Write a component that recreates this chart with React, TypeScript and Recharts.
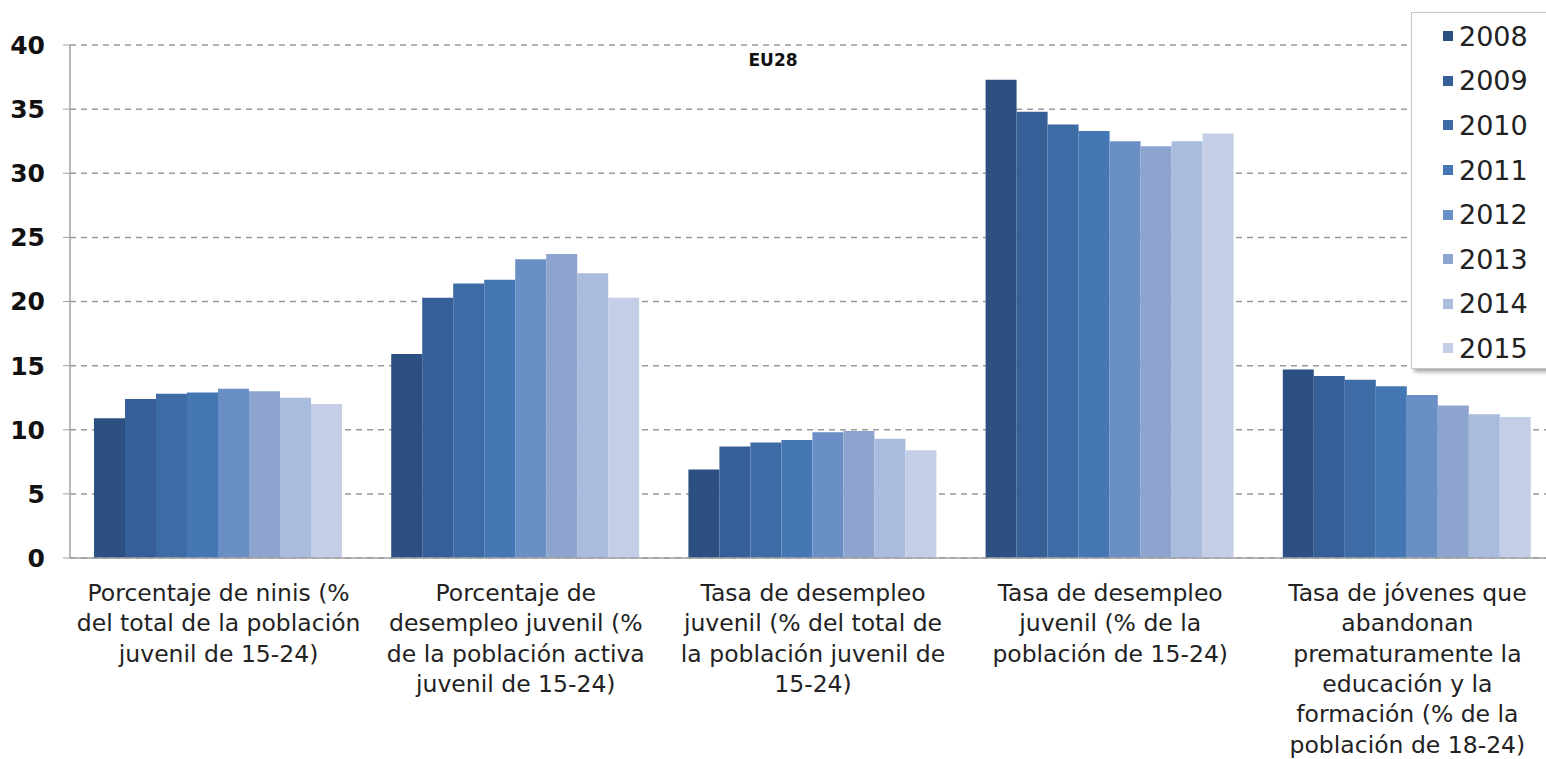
import { BarChart, Bar, XAxis, YAxis, CartesianGrid } from 'recharts';

const categories = [
  ['Porcentaje de ninis (%', 'del total de la población', 'juvenil de 15-24)'],
  ['Porcentaje de', 'desempleo juvenil (%', 'de la población activa', 'juvenil de 15-24)'],
  ['Tasa de desempleo', 'juvenil (% del total de', 'la población juvenil de', '15-24)'],
  ['Tasa de desempleo', 'juvenil (% de la', 'población de 15-24)'],
  [
    'Tasa de jóvenes que',
    'abandonan',
    'prematuramente la',
    'educación y la',
    'formación (% de la',
    'población de 18-24)',
  ],
];

const years = ['2008', '2009', '2010', '2011', '2012', '2013', '2014', '2015'];

const ninis = [10.9, 12.4, 12.8, 12.9, 13.2, 13.0, 12.5, 12.0];
const desempleoActiva = [15.9, 20.3, 21.4, 21.7, 23.3, 23.7, 22.2, 20.3];
const desempleoTotal = [6.9, 8.7, 9.0, 9.2, 9.8, 9.9, 9.3, 8.4];
const desempleoPoblacion = [37.3, 34.8, 33.8, 33.3, 32.5, 32.1, 32.5, 33.1];
const abandono = [14.7, 14.2, 13.9, 13.4, 12.7, 11.9, 11.2, 11.0];

const yTicks = [0, 5, 10, 15, 20, 25, 30, 35, 40];

const colors = ['#2d5083', '#365f97', '#3d6ba6', '#4577b4', '#6a8fc5', '#8da4cf', '#a9bcdd', '#c4cee6'];

const seriesByCategory = [ninis, desempleoActiva, desempleoTotal, desempleoPoblacion, abandono];

const data = categories.map((_, i) => {
  const row: Record<string, any> = { name: String(i) };
  years.forEach((y, j) => {
    row[y] = seriesByCategory[i][j];
  });
  return row;
});

const FONT = '"DejaVu Sans", Verdana, sans-serif';

function CategoryTick({ x, y, payload }: any) {
  const lines: string[] = categories[Number(payload.value)] || [];
  return (
    <text x={x} y={y + 35} textAnchor="middle" fontFamily={FONT} fontSize={23.5} fill="#222">
      {lines.map((l, i) => (
        <tspan key={i} x={x} dy={i === 0 ? 0 : 30.3}>
          {l}
        </tspan>
      ))}
    </text>
  );
}

// legend box drawn by hand so that it doesn't eat plot width
function LegendBox() {
  return (
    <div
      style={{
        position: 'absolute',
        left: 1411,
        top: 12,
        width: 160,
        height: 357,
        boxSizing: 'border-box',
        border: '1px solid #c8c8c8',
        background: '#fff',
        boxShadow: '3px 3px 4px rgba(0,0,0,0.35)',
        paddingTop: 1,
        fontFamily: FONT,
      }}
    >
      {years.map((y, i) => (
        <div key={y} style={{ display: 'flex', alignItems: 'center', height: 44.6, paddingLeft: 31 }}>
          <span style={{ width: 10, height: 10, background: colors[i], marginRight: 6 }} />
          <span style={{ fontSize: 27, color: '#222' }}>{y}</span>
        </div>
      ))}
    </div>
  );
}

export default function App() {
  return (
    <div style={{ position: 'absolute', left: 0, top: 0, width: 1546, height: 759, overflow: 'hidden', background: '#fff' }}>
      <BarChart
        width={1560}
        height={759}
        data={data}
        margin={{ top: 45, right: 4, bottom: 0, left: 0 }}
        barCategoryGap={24}
        barGap={0}
      >
        <CartesianGrid vertical={false} stroke="#9a9a9a" strokeDasharray="6 5" strokeWidth={1.5} />
        <XAxis
          dataKey="name"
          height={201}
          interval={0}
          tick={<CategoryTick />}
          tickLine={false}
          axisLine={{ stroke: '#a0a0a0', strokeWidth: 1.5 }}
        />
        <YAxis
          width={70}
          domain={[0, 40]}
          ticks={yTicks}
          interval={0}
          tickSize={7}
          tickMargin={18}
          tickLine={{ stroke: '#a0a0a0' }}
          axisLine={{ stroke: '#a0a0a0', strokeWidth: 1.5 }}
          tick={{ fontFamily: FONT, fontSize: 25, fontWeight: 'bold', fill: '#111' }}
        />
        {years.map((y, i) => (
          <Bar key={y} dataKey={y} fill={colors[i]} isAnimationActive={false} />
        ))}
      </BarChart>
      <LegendBox />
      <div
        style={{
          position: 'absolute',
          left: 773,
          top: 50,
          transform: 'translateX(-50%)',
          fontFamily: FONT,
          fontWeight: 'bold',
          fontSize: 17,
          color: '#111',
        }}
      >
        EU28
      </div>
    </div>
  );
}
